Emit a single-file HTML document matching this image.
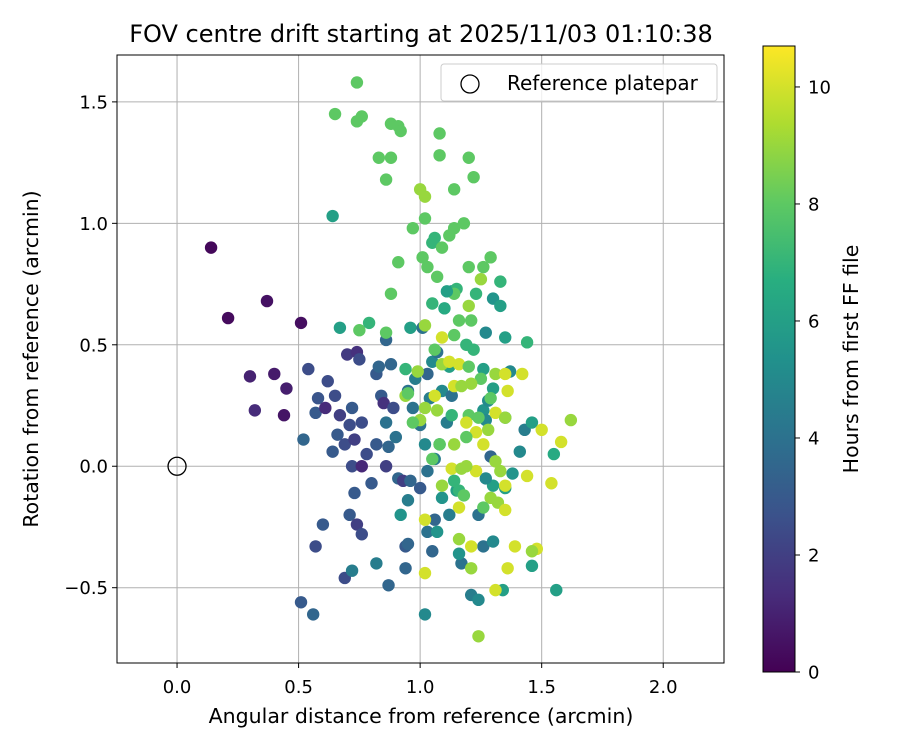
<!DOCTYPE html>
<html><head><meta charset="utf-8"><style>
body{margin:0;background:#fff;}
svg text{font-family:"DejaVu Sans","Liberation Sans",sans-serif;fill:#000;}
</style></head><body>
<svg id="chart" width="900" height="750" viewBox="0 0 900 750" xmlns="http://www.w3.org/2000/svg">
<defs>
<linearGradient id="vir" x1="0" y1="1" x2="0" y2="0">
<stop offset="0" stop-color="#440154"/><stop offset="0.125" stop-color="#472d7b"/><stop offset="0.25" stop-color="#3b528b"/><stop offset="0.375" stop-color="#2c728e"/><stop offset="0.5" stop-color="#21918c"/><stop offset="0.625" stop-color="#28ae80"/><stop offset="0.75" stop-color="#5ec962"/><stop offset="0.875" stop-color="#addc30"/><stop offset="1" stop-color="#fde725"/>
</linearGradient>
</defs>
<text x="421" y="42" font-size="24" text-anchor="middle">FOV centre drift starting at 2025/11/03 01:10:38</text>
<g id="grid"></g>
<g id="points"></g>
<rect x="117" y="55" width="607" height="608" fill="none" stroke="#000" stroke-width="1"/>
<g id="ticks"></g>
<text x="421" y="723" font-size="20.5" text-anchor="middle">Angular distance from reference (arcmin)</text>
<text transform="translate(38,359) rotate(-90)" font-size="20.5" text-anchor="middle">Rotation from reference (arcmin)</text>
<g>
<rect x="441" y="64" width="276" height="37" rx="3" fill="#fff" fill-opacity="0.8" stroke="#ccc"/>
<circle cx="470" cy="84" r="9" fill="none" stroke="#000" stroke-width="1.3"/>
<text x="507" y="90" font-size="20">Reference platepar</text>
</g>
<rect x="763" y="46" width="32" height="626" fill="url(#vir)" stroke="#000" stroke-width="1"/>
<g id="cbticks"></g>
<text transform="translate(858,359) rotate(-90)" font-size="20.5" text-anchor="middle">Hours from first FF file</text>
</svg>
<script>
const xTicks=[0.0,0.5,1.0,1.5,2.0];
const xTickLabels=["0.0","0.5","1.0","1.5","2.0"];
const yTicks=[-0.5,0.0,0.5,1.0,1.5];
const yTickLabels=["\u22120.5","0.0","0.5","1.0","1.5"];
const cTicks=[0,2,4,6,8,10];
const xs=[0.14,0.21,0.37,0.51,0.30,0.40,0.45,0.32,0.44,0.54,0.58,0.57,0.62,0.65,0.61,0.52,0.64,0.66,0.69,0.67,0.71,0.72,0.70,0.74,0.75,0.76,0.73,0.78,0.72,0.76,0.80,0.73,0.71,0.74,0.76,0.60,0.57,0.51,0.56,0.69,0.72,0.82,0.87,0.82,0.83,0.86,0.88,0.84,0.85,0.89,0.86,0.82,0.87,0.90,0.86,0.91,0.93,0.95,0.94,0.95,0.94,1.02,0.92,1.05,1.03,1.07,1.06,1.00,0.96,1.03,1.06,1.02,1.00,0.97,0.95,0.98,1.01,1.03,1.04,1.05,1.07,1.09,1.11,1.13,1.12,1.10,1.13,1.08,1.09,1.12,1.15,1.17,1.16,1.21,1.24,1.26,1.24,1.30,1.30,1.27,1.29,1.26,1.27,1.28,1.30,1.26,1.27,1.30,1.33,1.35,1.37,1.35,1.35,1.34,1.38,1.41,1.43,1.46,1.44,1.46,1.56,1.55,
0.74,0.65,0.76,0.74,0.88,0.91,0.92,1.08,0.83,0.88,1.08,1.20,0.86,1.22,1.14,1.00,1.02,0.64,1.02,0.97,1.14,1.18,1.12,1.06,1.05,1.09,1.01,0.91,1.03,1.20,1.26,1.29,1.07,1.25,1.33,0.88,1.15,1.14,1.23,1.11,1.20,1.05,1.16,1.02,0.75,0.79,0.67,0.96,0.86,1.14,1.19,1.22,1.06,0.94,0.99,1.09,1.12,1.16,1.20,1.25,1.21,1.14,1.17,1.31,1.35,1.36,0.94,0.95,1.06,1.29,1.07,1.13,1.20,1.24,1.31,1.19,1.35,1.23,1.28,1.19,1.14,1.26,1.08,1.05,1.13,1.17,1.23,1.14,1.16,1.18,1.09,1.19,1.31,1.33,1.35,1.29,1.32,1.35,1.16,1.26,1.39,1.02,1.16,1.21,1.21,1.36,1.31,1.24,1.02,1.48,1.46,1.44,1.50,1.58,1.62,1.54,1.42,1.02,1.00,0.97,1.21,1.09];
const ys=[0.90,0.61,0.68,0.59,0.37,0.38,0.32,0.23,0.21,0.40,0.28,0.22,0.35,0.29,0.24,0.11,0.06,0.13,0.09,0.21,0.17,0.24,0.46,0.47,0.44,0.18,0.11,0.05,0.00,0.00,-0.07,-0.11,-0.20,-0.24,-0.28,-0.24,-0.33,-0.56,-0.61,-0.46,-0.43,-0.40,-0.49,0.38,0.41,0.52,0.42,0.29,0.26,0.24,0.18,0.09,0.08,0.12,0.00,-0.05,-0.06,-0.14,-0.33,-0.32,-0.42,-0.61,-0.20,-0.35,-0.27,-0.27,-0.22,-0.09,-0.06,-0.02,0.03,0.09,0.17,0.24,0.31,0.36,0.57,0.38,0.28,0.43,0.47,0.31,0.18,0.29,0.41,0.65,0.72,0.09,-0.13,-0.20,-0.10,-0.40,-0.36,-0.53,-0.55,-0.33,-0.20,-0.31,-0.08,-0.05,0.04,0.23,0.19,0.27,0.32,0.40,0.55,0.69,0.66,0.53,0.39,0.20,-0.09,-0.51,-0.03,0.06,0.15,0.18,0.51,-0.41,-0.51,0.05,
1.58,1.45,1.44,1.42,1.41,1.40,1.38,1.37,1.27,1.27,1.28,1.27,1.18,1.19,1.14,1.14,1.11,1.03,1.02,0.98,0.98,1.00,0.95,0.94,0.92,0.90,0.86,0.84,0.82,0.82,0.82,0.86,0.78,0.77,0.76,0.71,0.73,0.71,0.71,0.72,0.66,0.67,0.60,0.58,0.56,0.59,0.57,0.57,0.55,0.54,0.50,0.48,0.48,0.40,0.39,0.42,0.43,0.42,0.41,0.36,0.34,0.33,0.33,0.38,0.38,0.31,0.29,0.30,0.29,0.28,0.23,0.21,0.21,0.20,0.22,0.18,0.20,0.14,0.15,0.12,0.09,0.09,0.09,0.03,-0.01,-0.01,-0.02,-0.06,-0.10,-0.12,-0.08,0.00,0.02,-0.02,-0.08,-0.13,-0.15,-0.18,-0.17,-0.17,-0.33,-0.22,-0.30,-0.33,-0.42,-0.42,-0.51,-0.70,-0.44,-0.34,-0.35,-0.04,0.15,0.10,0.19,-0.07,0.38,0.24,0.19,0.18,0.60,0.53];
const hours=[0.2,0.3,0.5,0.4,1.0,0.8,0.9,1.3,0.6,2.5,2.8,3.0,2.5,2.5,1.3,3.5,3.0,3.0,2.5,2.0,2.5,3.0,1.8,1.5,2.5,2.5,2.0,2.5,2.5,1.2,3.0,3.0,3.0,2.0,2.5,3.0,2.5,3.0,3.5,2.5,4.5,4.5,3.5,3.0,3.5,3.5,3.5,3.0,1.5,2.5,4.0,3.0,3.5,4.0,2.0,3.5,2.0,4.5,3.0,3.5,3.5,5.0,5.5,3.5,4.0,5.5,3.5,3.0,3.5,4.0,4.5,5.0,4.0,4.0,4.0,4.5,4.0,3.5,4.5,5.0,4.0,5.0,4.5,4.0,6.0,6.5,5.0,6.0,5.5,4.5,6.0,4.0,5.5,4.5,5.0,4.0,4.0,5.0,6.0,5.0,3.5,5.5,5.0,5.0,6.0,6.0,5.0,5.5,6.0,6.0,5.0,6.5,6.0,6.0,5.5,5.0,4.5,6.0,7.0,6.0,6.0,6.5,
8,8,8,8,8,8,8,8,8,8,8,8,8,8,8,9,9,6,8,8,8,8,8,7,7,8,8,8,8,8,8,8,8,9,7,8,7,8,7,6,9,7,8,9,8,7,6,6,8,8,7,7,8,7,9,9,10,10,8,8,9,10,9,9,10,10,9,8,10,8,9,7,8,8,10,10,9,10,9,8,9,10,8,8,10,9,10,7,7,8,9,9,9,9,10,9,9,10,10,8,10,10,9,10,9,10,10,9,10,10,9,10,10,10,9,10,10,9,9,8,8,10];

const X0=117,X1=724,XMIN=-0.247,XMAX=2.25;
const Y0=55,Y1=663,YMAX=1.693,YMIN=-0.81;
const CB0=672,CB1=46,CMAX=10.7;
function sx(v){return X0+(v-XMIN)/(XMAX-XMIN)*(X1-X0);}
function sy(v){return Y1-(v-YMIN)/(YMAX-YMIN)*(Y1-Y0);}
function sc(v){return CB0-(v/CMAX)*(CB0-CB1);}
const VIR=[[68,1,84],[71,45,123],[59,82,139],[44,114,142],[33,145,140],[40,174,128],[94,201,98],[173,220,48],[253,231,37]];
function viridis(t){t=Math.max(0,Math.min(1,t));const p=t*8,i=Math.min(7,Math.floor(p)),f=p-i;const a=VIR[i],b=VIR[i+1];return `rgb(${[0,1,2].map(k=>Math.round(a[k]+(b[k]-a[k])*f)).join(',')})`;}
const NS="http://www.w3.org/2000/svg";
function mk(tag,attrs,parent,txt){const e=document.createElementNS(NS,tag);for(const k in attrs)e.setAttribute(k,attrs[k]);if(txt!==undefined)e.textContent=txt;parent.appendChild(e);return e;}
const grid=document.getElementById('grid'),ticks=document.getElementById('ticks'),pts=document.getElementById('points'),cbt=document.getElementById('cbticks');
xTicks.forEach((v,i)=>{const x=sx(v);
 const g=mk('line',{x1:x,x2:x,y1:Y0,y2:Y1,stroke:'#b0b0b0','stroke-width':1},grid);
 
 
 mk('line',{x1:x,x2:x,y1:Y1,y2:Y1+5,stroke:'#000'},ticks);
 const t=mk('text',{x:x,y:Y1+30,'font-size':18,'text-anchor':'middle'},ticks,xTickLabels[i]);
 
 
});
yTicks.forEach((v,i)=>{const y=sy(v);
 const g=mk('line',{x1:X0,x2:X1,y1:y,y2:y,stroke:'#b0b0b0','stroke-width':1},grid);
 
 
 mk('line',{x1:X0-5,x2:X0,y1:y,y2:y,stroke:'#000'},ticks);
 const t=mk('text',{x:X0-9,y:y+6.5,'font-size':18,'text-anchor':'end'},ticks,yTickLabels[i]);
 
 
});
for(let i=0;i<xs.length;i++){
 const c=mk('circle',{cx:sx(xs[i]),cy:sy(ys[i]),r:6.2,fill:viridis(hours[i]/CMAX)},pts);
 
 
}
const ref=mk('circle',{cx:sx(0),cy:sy(0),r:9,fill:'none',stroke:'#000','stroke-width':1.3},pts);


cTicks.forEach(v=>{const y=sc(v);
 mk('line',{x1:795,x2:800,y1:y,y2:y,stroke:'#000'},cbt);
 const t=mk('text',{x:808,y:y+6.5,'font-size':18},cbt,String(v));
 
 
});
</script>
</body></html>
